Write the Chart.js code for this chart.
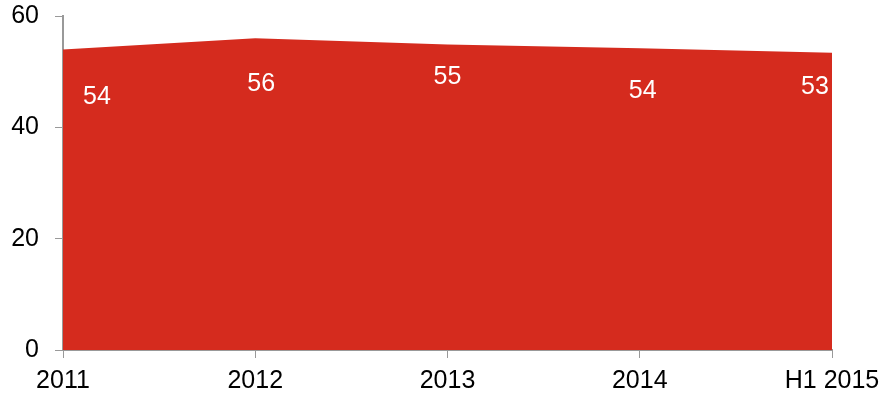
<!DOCTYPE html>
<html>
<head>
<meta charset="utf-8">
<script src="https://cdn.jsdelivr.net/npm/chart.js@4"></script>
<style>
  body { margin: 0; background: #fff; }
</style>
</head>
<body>
<canvas id="myChart" width="885" height="397"></canvas>
<script>
'use strict';

let periods = ['2011', '2012', '2013', '2014', 'H1 2015'];
let shareValues = [54.0, 56.0, 54.9, 54.2, 53.4];
let shareLabels = ['54', '56', '55', '54', '53'];
let yTicks = [0, 20, 40, 60];

let canvasElem = document.getElementById('myChart');
let fontName = '"Liberation Sans", Arial, sans-serif';

// label nudges (px) relative to each point, to sit like the original
let labelDx = [34, 6, 0, 3, -17];
let labelDy = [48, 46, 33, 43, 34];

// white value labels inside the red area
let valueLabels = {
  id: 'valueLabels',
  afterDatasetsDraw(chart) {
    let ctx = chart.ctx;
    let meta = chart.getDatasetMeta(0);
    ctx.save();
    ctx.fillStyle = '#ffffff';
    ctx.font = '25px ' + fontName;
    ctx.textAlign = 'center';
    ctx.textBaseline = 'middle';
    meta.data.forEach((pt, i) => {
      ctx.fillText(shareLabels[i], pt.x + labelDx[i], pt.y + labelDy[i]);
    });
    ctx.restore();
  }
};

let chartObj = {
  type: 'line',
  data: {
    labels: periods,
    datasets: [{
      data: shareValues,
      fill: 'origin',
      backgroundColor: '#d52b1e',
      borderWidth: 0,
      pointRadius: 0,
      tension: 0
    }]
  },
  options: {
    responsive: false,
    animation: false,
    layout: { padding: { top: 16, right: 53, left: 0, bottom: 0 } },
    plugins: {
      legend: { display: false },
      tooltip: { enabled: false }
    },
    scales: {
      x: {
        offset: false,
        afterFit: s => {
          s.height = 47;
          s.paddingLeft = 0;
          s.paddingRight = 0;
        },
        grid: { drawOnChartArea: false, tickLength: 8, color: '#999999' },
        border: { color: '#999999', width: 2 },
        ticks: {
          color: '#000000',
          padding: 8,
          maxRotation: 0,
          autoSkip: false,
          font: { family: fontName, size: 25 }
        }
      },
      y: {
        min: 0,
        max: 60,
        afterFit: s => {
          s.width = 63;
          s.paddingTop = 0;
          s.paddingBottom = 0;
        },
        afterBuildTicks: s => { s.ticks = yTicks.map(v => ({ value: v })); },
        grid: { drawOnChartArea: false, tickLength: 8, color: '#999999' },
        border: { color: '#999999', width: 2 },
        ticks: {
          color: '#000000',
          padding: 16,
          font: { family: fontName, size: 25 }
        }
      }
    }
  },
  plugins: [valueLabels]
};

new Chart(canvasElem, chartObj);
</script>
</body>
</html>
